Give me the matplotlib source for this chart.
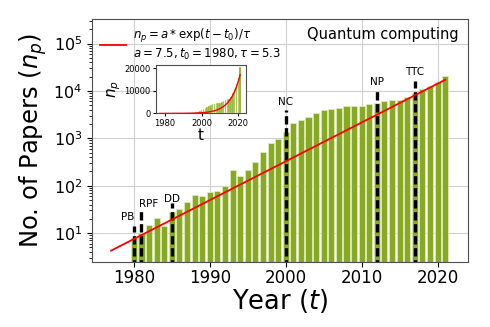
import numpy as np
import matplotlib
matplotlib.use("Agg")
import matplotlib.pyplot as plt

# papers per year, 1980-2021
years = list(range(1980, 2022))
papers = [8, 10, 15, 21, 14, 28, 32, 46, 63, 60, 75, 76, 100, 217, 157, 217, 323, 525,
          810, 960, 1380, 2090, 2450, 2870, 3380, 3870, 4180, 4320, 4700, 4700, 4700,
          5250, 5690, 6180, 6470, 6470, 7400, 9000, 10900, 13000, 15800, 20400]

# exponential fit
a = 7.5
t0 = 1980
tau = 5.3
t_fit = np.linspace(1977, 2021, 200)
n_fit = a * np.exp((t_fit - t0) / tau)

# milestones
events = ["PB", "RPF", "DD", "NC", "NP", "TTC"]
event_years = [1980, 1981, 1985, 2000, 2012, 2017]
line_tops = [14, 28.6, 42.8, 4000, 11500, 16300]
label_x = [1979.2, 1982.0, 1985, 2000, 2012, 2017]
label_y = [22, 41.5, 53, 5970, 15800, 24500]

bar_color = "#88aa22"

fig = plt.figure(figsize=(4.9, 3.27), dpi=100)
ax = fig.add_axes([0.188, 0.2, 0.767, 0.742])

ax.bar(years, papers, width=0.8, color=bar_color, edgecolor="#e4edc4", linewidth=0.5, zorder=2)
ax.plot(t_fit, n_fit, color="red", lw=1.3, zorder=4,
        label="$n_p = a * \\exp(t - t_0)/\\tau$\n$a = 7.5, t_0 = 1980, \\tau = 5.3$")
for ev, yr, top, lx, ly in zip(events, event_years, line_tops, label_x, label_y):
    ax.plot([yr, yr], [1, top], color="black", lw=2.4, dashes=(2.5, 1.1), zorder=3)
    ax.text(lx, ly, ev, ha="center", va="center", fontsize=7.5)

ax.set_yscale("log")
ax.set_xlim(1974.5, 2024)
ax.set_ylim(2.5, 3.3e5)
ax.set_xticks([1980, 1990, 2000, 2010, 2020])
ax.grid(True, color="#d0d0d0", lw=0.8, zorder=0)
ax.set_axisbelow(True)
for sp in ax.spines.values():
    sp.set_color("0.3")
ax.tick_params(axis="x", labelsize=12, pad=2)
ax.tick_params(axis="y", labelsize=11.5)
ax.set_xlabel("Year ($t$)", fontsize=18.5, labelpad=0)
ax.set_ylabel("No. of Papers ($n_p$)", fontsize=17.5, labelpad=3)
ax.legend(loc="upper left", frameon=False, fontsize=8.5, handlelength=2.2,
          borderaxespad=0.35, borderpad=0.3, handletextpad=0.6)
ax.text(0.975, 0.965, "Quantum computing", transform=ax.transAxes, ha="right", va="top",
        fontsize=10.5)

# inset with linear scale
ins = fig.add_axes([0.318, 0.653, 0.184, 0.148])
ins.bar(years, papers, width=0.8, color=bar_color, edgecolor="#e4edc4", linewidth=0.3)
ins.plot(t_fit, n_fit, color="red", lw=1.0)
ins.set_xlim(1975, 2024.2)
ins.set_xticks([1980, 2000, 2020])
ins.set_yticks([0, 10000, 20000])
for sp in ins.spines.values():
    sp.set_color("0.3")
ins.tick_params(labelsize=6, length=2.5, pad=1.5)
ins.set_xlabel("t", fontsize=11, labelpad=0)
ins.set_ylabel("$n_p$", fontsize=11, labelpad=1)

fig.savefig("out.png", dpi=100)
